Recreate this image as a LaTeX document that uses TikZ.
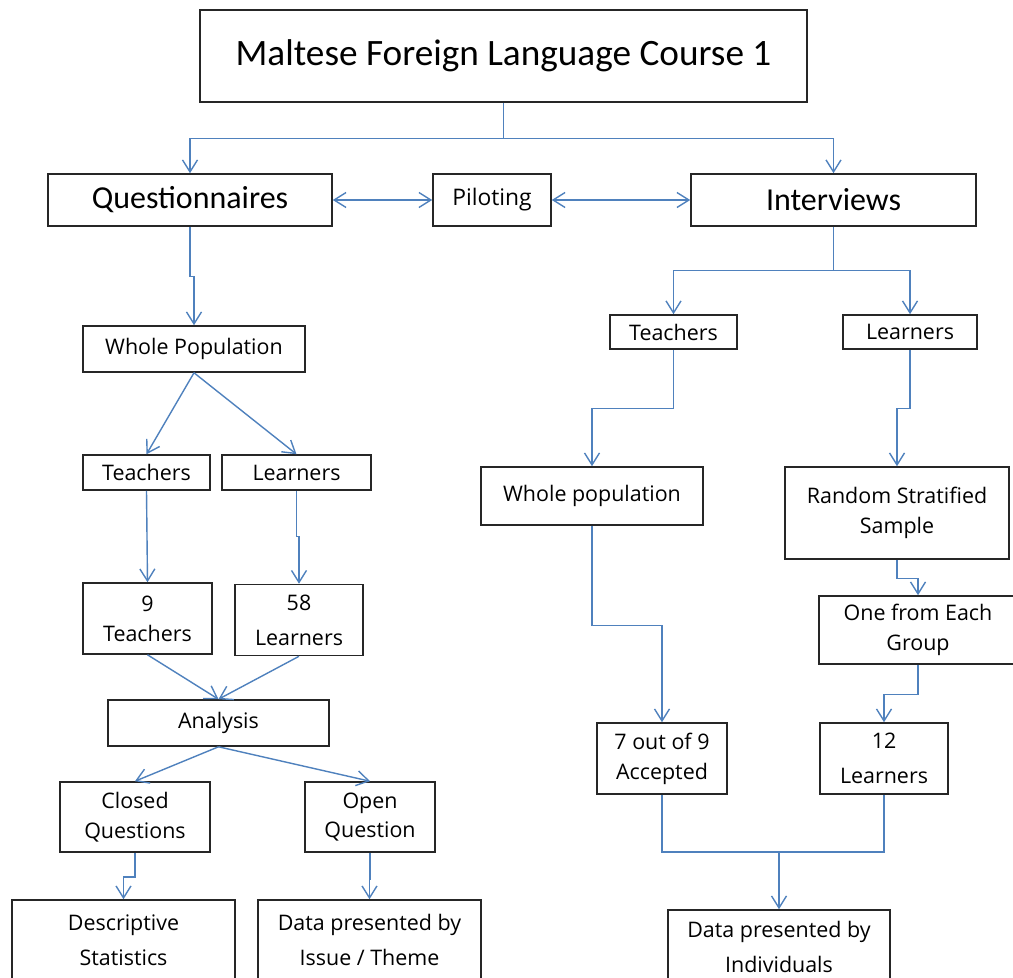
\documentclass[tikz,border=0pt]{standalone}
\usepackage{fontspec}
\setmainfont{Open Sans}
\newfontfamily\headfont{Carlito}
\usetikzlibrary{arrows.meta, positioning}
\definecolor{linkblue}{RGB}{79,129,189}

\begin{document}
\begin{tikzpicture}[x=0.02cm, y=-0.02cm,
    font=\fontsize{12.2}{17}\selectfont, >={Straight Barb[length=2.4mm,width=3mm]},
    box/.style={draw=black!85, line width=0.9pt, inner sep=0pt, align=center},
    link/.style={draw=linkblue, line width=0.8pt},
    arr/.style={link, ->}]
    \useasboundingbox (0,0) rectangle (1013,977);

    \node[box, minimum width=12.14cm, minimum height=1.84cm, font=\headfont\fontsize{21.2}{25}\selectfont] (title) at (503.5,56) {Maltese Foreign Language Course 1};
    \node[box, minimum width=5.68cm, minimum height=1.04cm, font=\headfont\fontsize{18.2}{22}\selectfont] (quest) at (190,200) {Questionnaires};
    \node[box, minimum width=2.36cm, minimum height=1.04cm, font=\fontsize{13}{17}\selectfont] (pilot) at (492,200) {Piloting};
    \node[box, minimum width=5.70cm, minimum height=1.04cm, font=\headfont\fontsize{18.2}{22}\selectfont] (interv) at (833.5,200) {Interviews};

    \node[box, minimum width=4.44cm, minimum height=0.92cm] (wholeL) at (194,349) {Whole Population};
    \node[box, minimum width=2.54cm, minimum height=0.70cm] (teachL) at (146.5,472.5) {Teachers};
    \node[box, minimum width=2.98cm, minimum height=0.70cm] (learnL) at (296.5,472.5) {Learners};
    \node[box, minimum width=2.58cm, minimum height=1.42cm] (nineT) at (147.5,618.5) {9\\Teachers};
    \node[box, minimum width=2.56cm, minimum height=1.42cm] (fiftyL) at (299,620) {58\\[0.1cm]Learners};
    \node[box, minimum width=4.42cm, minimum height=0.92cm] (analysis) at (218.5,723) {Analysis};
    \node[box, minimum width=3.00cm, minimum height=1.40cm] (closedQ) at (135,817) {Closed\\Questions};
    \node[box, minimum width=2.60cm, minimum height=1.40cm] (openQ) at (370,817) {Open\\Question};
    \node[box, minimum width=4.46cm, minimum height=1.60cm] (descr) at (123.5,940) {Descriptive\\[0.1cm]Statistics};
    \node[box, minimum width=4.46cm, minimum height=1.60cm] (byTheme) at (369.5,940) {Data presented by\\[0.1cm]Issue / Theme};

    \node[box, minimum width=2.54cm, minimum height=0.68cm] (teachR) at (673.5,332) {Teachers};
    \node[box, minimum width=2.68cm, minimum height=0.68cm] (learnR) at (910,332) {Learners};
    \node[box, minimum width=4.44cm, minimum height=1.16cm] (wholeR) at (592,496) {Whole population};
    \node[box, minimum width=4.48cm, minimum height=1.84cm] (random) at (897,513) {Random Stratified\\Sample};
    \node[box, minimum width=3.96cm, minimum height=1.36cm] (oneEach) at (918,630) {One from Each\\Group};
    \node[box, minimum width=2.60cm, minimum height=1.42cm] (sevenA) at (662,758.5) {7 out of 9\\Accepted};
    \node[box, minimum width=2.56cm, minimum height=1.42cm] (twelveL) at (884,758.5) {12\\[0.1cm]Learners};
    \node[box, minimum width=4.44cm, minimum height=1.48cm] (byPerson) at (779,947) {Data presented by\\[0.1cm]Individuals};
    \coordinate (join) at (779,852);

    \draw[arr] (title.south) -- ++(0,36) -| (quest.north);
    \draw[arr] (title.south) -- ++(0,36) -| (interv.north);
    \draw[arr, <->] (quest.east) -- (pilot.west);
    \draw[arr, <->] (pilot.east) -- (interv.west);

    \draw[arr] (quest.south) -- ++(0,50) -| (wholeL.north);
    \draw[arr] (wholeL.south) -- (teachL.north);
    \draw[arr] (wholeL.south) -- (learnL.north);
    \draw[arr] (teachL.south) -- (nineT.north);
    \draw[arr] (learnL.south) -- ++(0,46) -| (fiftyL.north);
    \draw[arr] (nineT.south) -- (analysis.north);
    \draw[arr] (fiftyL.south) -- (analysis.north);
    \draw[arr] (analysis.south) -- (closedQ.north);
    \draw[arr] (analysis.south) -- (openQ.north);
    \draw[arr] (closedQ.south) -- ++(0,24) -| (descr.north);
    \draw[arr] (openQ.south) -- ++(0,26) -| (byTheme.north);

    \draw[arr] (interv.south) -- ++(0,44) -| (teachR.north);
    \draw[arr] (interv.south) -- ++(0,44) -| (learnR.north);
    \draw[arr] (teachR.south) -- ++(0,59) -| (wholeR.north);
    \draw[arr] (wholeR.south) -- ++(0,100) -| (sevenA.north);
    \draw[arr] (learnR.south) -- ++(0,59) -| (random.north);
    \draw[arr] (random.south) -- ++(0,19) -| (oneEach.north);
    \draw[arr] (oneEach.south) -- ++(0,30) -| (twelveL.north);
    \draw[link] (sevenA.south) |- (join) -| (twelveL.south);
    \draw[arr] (join) -- (byPerson.north);
\end{tikzpicture}
\end{document}
